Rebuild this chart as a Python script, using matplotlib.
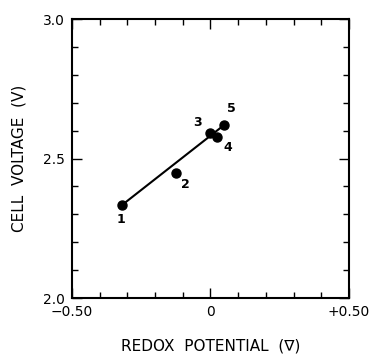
import numpy as np
import matplotlib
matplotlib.use("Agg")
import matplotlib.pyplot as plt

labels = ["1", "2", "3", "4", "5"]
redox = [-0.32, -0.125, -0.002, 0.023, 0.049]
voltage = [2.333, 2.45, 2.59, 2.577, 2.62]
label_offsets = [(-4, -15), (4, -13), (-12, 3), (5, -12), (2, 7)]

plt.rcParams['font.family'] = ['DejaVu Sans']
fig = plt.figure(figsize=(3.72, 3.6), dpi=100)
ax = fig.add_axes([0.1935, 0.172, 0.7445, 0.775])

ax.plot([redox[0], redox[-1]], [voltage[0], voltage[-1]], color='black', lw=1.5, zorder=2)
ax.plot(redox, voltage, 'o', color='black', ms=6.5, zorder=3)
for lab, x, y, off in zip(labels, redox, voltage, label_offsets):
    ax.annotate(lab, (x, y), xytext=off, textcoords='offset points',
                fontsize=9, ha='left', va='bottom', fontweight='bold')

ax.set_xlim(-0.5, 0.5)
ax.set_ylim(2.0, 3.0)
ax.set_xticks([-0.5, 0, 0.5])
ax.set_xticklabels(['\u22120.50', '0', '+0.50'])
ax.set_yticks([2.0, 2.5, 3.0])
ax.set_yticklabels(['2.0', '2.5', '3.0'])
ax.set_xticks(np.arange(-0.4, 0.45, 0.1), minor=True)
ax.set_yticks(np.arange(2.1, 2.95, 0.1), minor=True)
ax.tick_params(which='both', direction='in', top=True, right=True, width=1.0,
               labelsize=10)
ax.tick_params(which='major', length=7, pad=5)
ax.tick_params(which='minor', length=4)
for s in ax.spines.values():
    s.set_linewidth(1.5)

ax.set_xlabel('REDOX  POTENTIAL  (\u2207)', fontsize=11, labelpad=14)
ax.set_ylabel('CELL  VOLTAGE  (V)', fontsize=11, labelpad=12)

fig.savefig('out.png', dpi=100)
